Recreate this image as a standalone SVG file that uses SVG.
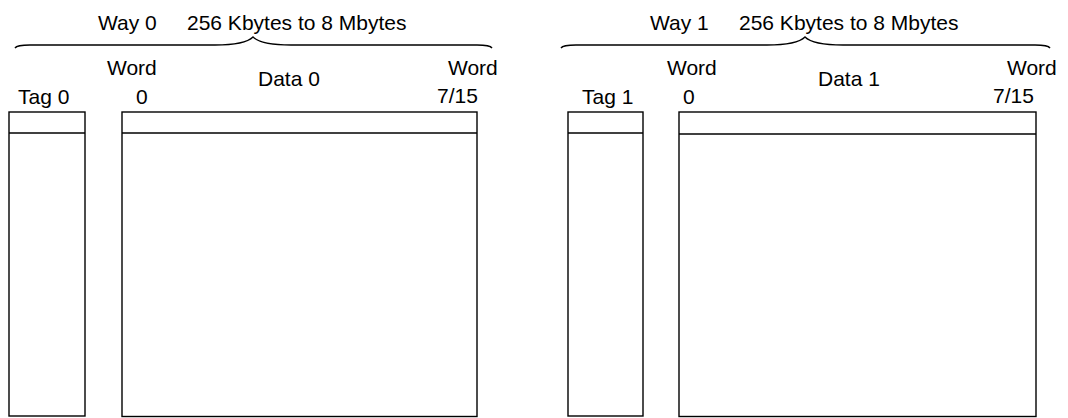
<svg xmlns="http://www.w3.org/2000/svg" width="1068" height="418" viewBox="0 0 1068 418">
<style>
text{font-family:"Liberation Sans",Arial,sans-serif;font-size:21px;fill:#000}
.box{fill:#fff;stroke:#000;stroke-width:1.4}
.brace{fill:none;stroke:#000;stroke-width:1.4}
</style>
<rect width="1068" height="418" fill="#fff"/>
<g id="way0">
  <text x="98" y="30">Way 0</text>
  <text x="187" y="30">256 Kbytes to 8 Mbytes</text>
  <path class="brace" d="M15,48 Q17,45 30,45 L215,45 Q245,45 253,37 Q261,45 291,45 L477,45 Q490,45 492,48"/>
</g>
<g id="tag0">
  <text x="18" y="104">Tag 0</text>
  <rect class="box" x="9" y="112" width="76" height="304"/>
  <line class="box" x1="9" y1="133" x2="85" y2="133"/>
</g>
<g id="data0">
  <text x="107" y="75">Word</text>
  <text x="136" y="104">0</text>
  <text x="258" y="86">Data 0</text>
  <text x="448" y="75">Word</text>
  <text x="437" y="103">7/15</text>
  <rect class="box" x="122" y="112" width="355" height="304.5"/>
  <line class="box" x1="122" y1="133" x2="477" y2="133"/>
</g>
<g id="way1">
  <text x="650" y="30">Way 1</text>
  <text x="739" y="30">256 Kbytes to 8 Mbytes</text>
  <path class="brace" d="M561,48 Q563,45 576,45 L767,45 Q797,45 805,37 Q813,45 843,45 L1035,45 Q1048,45 1050,48"/>
</g>
<g id="tag1">
  <text x="582" y="104">Tag 1</text>
  <rect class="box" x="568" y="112" width="75" height="304"/>
  <line class="box" x1="568" y1="133" x2="643" y2="133"/>
</g>
<g id="data1">
  <text x="667" y="75">Word</text>
  <text x="683" y="104">0</text>
  <text x="818" y="86">Data 1</text>
  <text x="1007" y="75">Word</text>
  <text x="993" y="103">7/15</text>
  <rect class="box" x="679" y="112" width="357" height="304.5"/>
  <line class="box" x1="679" y1="134" x2="1036" y2="134"/>
</g>
<g id="connectors"></g>
</svg>
